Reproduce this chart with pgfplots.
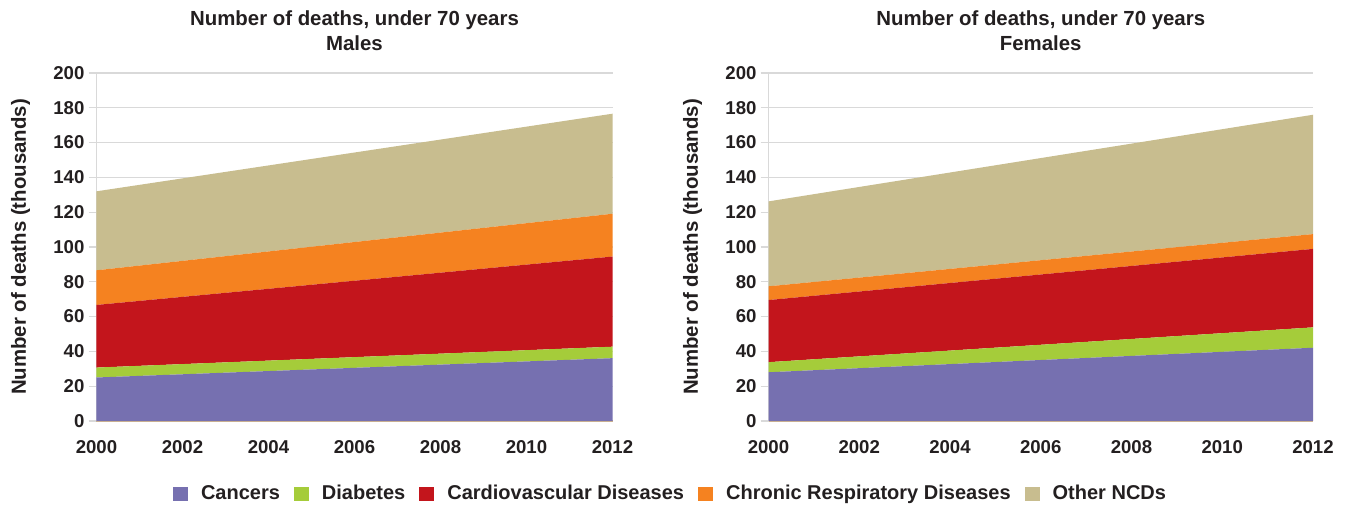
\documentclass[border=0pt]{standalone}
\usepackage{pgfplots}
\pgfplotsset{compat=1.18}
\usepackage{fontspec}
\setmainfont{Liberation Sans}
\definecolor{cCan}{RGB}{118,112,176}
\definecolor{cDia}{RGB}{165,204,58}
\definecolor{cCvd}{RGB}{195,21,28}
\definecolor{cCrd}{RGB}{245,130,32}
\definecolor{cOth}{RGB}{200,189,143}
\definecolor{txt}{RGB}{35,31,32}
\definecolor{gridc}{RGB}{217,217,217}
\definecolor{baseln}{RGB}{200,175,145}
\newcommand{\cf}{\fontsize{9.3}{12.5}\selectfont\bfseries}
\newcommand{\tf}{\fontsize{10.2}{12.5}\selectfont\bfseries}
\newcommand{\lf}{\fontsize{10}{12}\selectfont\bfseries}
\pgfplotsset{
  deathaxis/.style={
    scale only axis, height=174pt,
    ymin=0, ymax=200, xmin=2000, xmax=2012,
    ytick={0,20,...,200}, xtick={2000,2002,...,2012},
    stack plots=y,
    axis x line*=bottom, axis y line*=left,
    ymajorgrids, major grid style={gridc, line width=0.6pt},
    y axis line style={gridc, line width=0.6pt},
    x axis line style={baseln, line width=0.6pt},
    ytick style={gridc, line width=0.6pt},
    xtick style={draw=none},
    tick align=outside, major tick length=4pt,
    /pgf/number format/assume math mode=true,
    /pgf/number format/1000 sep={},
    tick label style={font=\cf, text=txt},
    yticklabel style={xshift=1.5pt},
    xticklabel style={yshift=-2pt},
    ylabel={Number of deaths (thousands)},
    ylabel style={font=\tf, text=txt, at={(axis description cs:0,0.5)}, anchor=south, inner sep=0pt, yshift=33pt},
    title style={font=\tf, text=txt, align=center, at={(axis description cs:0.5,1)}, anchor=south, inner sep=0pt, yshift=5pt},
  }
}
\begin{document}
\begin{tikzpicture}
\useasboundingbox (0,0) rectangle (673pt,253pt);
\begin{axis}[deathaxis, width=258pt, at={(48.25pt,42.5pt)}, anchor=south west,
  title={Number of deaths, under 70 years\\Males},
  legend columns=-1,
  legend image code/.code={\fill[#1] (0pt,-3.6pt) rectangle (7.5pt,3.6pt);},
  legend style={at={(axis description cs:1.1144,-0.21)}, anchor=center, draw=none, font=\lf, text=txt,
    /tikz/every even column/.append style={column sep=5pt},
    /tikz/every odd column/.append style={column sep=4.5pt}},
]
\addplot[fill=cCan, draw=none] coordinates {(2000,25.0) (2012,36.1)} \closedcycle;
\addlegendentry{Cancers}
\addplot[fill=cDia, draw=none] coordinates {(2000,5.7) (2012,6.6)} \closedcycle;
\addlegendentry{Diabetes}
\addplot[fill=cCvd, draw=none] coordinates {(2000,36.0) (2012,51.8)} \closedcycle;
\addlegendentry{Cardiovascular Diseases}
\addplot[fill=cCrd, draw=none] coordinates {(2000,19.9) (2012,24.6)} \closedcycle;
\addlegendentry{Chronic Respiratory Diseases}
\addplot[fill=cOth, draw=none] coordinates {(2000,45.4) (2012,57.5)} \closedcycle;
\addlegendentry{Other NCDs}
\end{axis}
\begin{axis}[deathaxis, width=272.25pt, at={(384.25pt,42.5pt)}, anchor=south west,
  title={Number of deaths, under 70 years\\Females},
]
\addplot[fill=cCan, draw=none] coordinates {(2000,28.0) (2012,42.1)} \closedcycle;
\addplot[fill=cDia, draw=none] coordinates {(2000,5.8) (2012,11.7)} \closedcycle;
\addplot[fill=cCvd, draw=none] coordinates {(2000,35.7) (2012,45.1)} \closedcycle;
\addplot[fill=cCrd, draw=none] coordinates {(2000,7.9) (2012,8.5)} \closedcycle;
\addplot[fill=cOth, draw=none] coordinates {(2000,48.8) (2012,68.6)} \closedcycle;
\end{axis}
\end{tikzpicture}
\end{document}
